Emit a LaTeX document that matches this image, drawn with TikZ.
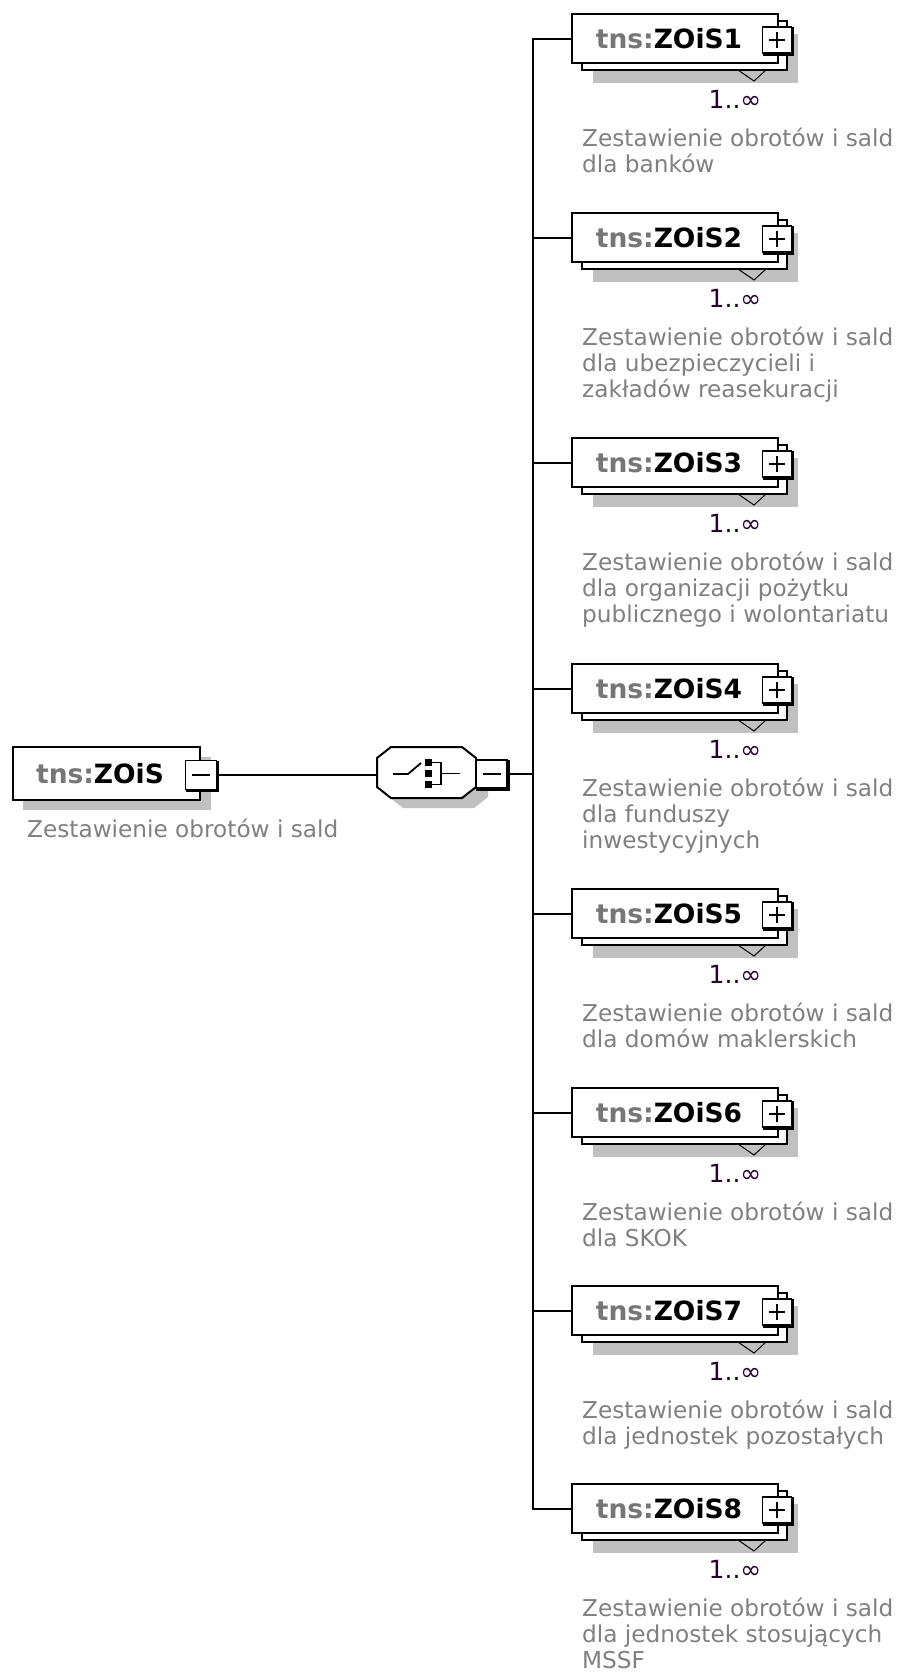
\documentclass[tikz,border=0pt]{standalone}
\usepackage{fontspec}
\setmainfont{DejaVu Sans}
\definecolor{shadowgray}{RGB}{192,192,192}
\definecolor{descgray}{RGB}{128,128,128}
\definecolor{nsgray}{RGB}{118,118,118}
\definecolor{multcol}{RGB}{40,0,50}
\tikzset{
  boxline/.style={draw=black, line width=2pt},
  frontbox/.style={draw=black, line width=2pt, fill=white, inner sep=0pt, outer sep=0pt},
  conn/.style={draw=black, line width=1.8pt},
  pmbox/.style={draw=black, line width=1.5pt, fill=white, inner sep=0pt, outer sep=0pt},
  pmthick/.style={draw=black, line width=3.5pt},
  pmsign/.style={draw=black, line width=1.8pt},
  titletext/.style={font=\fontsize{26.5}{30}\selectfont\bfseries, text=black, inner sep=0pt},
  desctext/.style={font=\fontsize{23.2}{26}\selectfont, text=descgray, align=left, inner sep=0pt},
  multtext/.style={font=\fontsize{25}{28}\selectfont, text=multcol, inner sep=0pt},
  vmark/.style={draw=black, line width=1pt},
}
\begin{document}
\begin{tikzpicture}[x=1pt, y=-1pt]
\useasboundingbox (0,0) rectangle (901,1675);

% ---------- root element ----------
\fill[shadowgray] (23,757) rectangle (211,810);
\node[frontbox, anchor=north west, minimum width=187, minimum height=53] (root) at (13,747) {};
\node[titletext] (roottitle) at (100,774) {\textcolor{nsgray}{tns:}ZOiS};
\node[pmbox, minimum width=31, minimum height=29] (rm) at (201,775) {};
\draw[pmthick] ([xshift=1pt]rm.north east) -- ([xshift=1pt,yshift=-1pt]rm.south east) -- ([yshift=-1pt]rm.south west);
\draw[pmsign] ([xshift=-9pt]rm.center) -- ([xshift=9pt]rm.center);
\node[desctext, anchor=north west] (rootdesc) at (27,819) {Zestawienie obrotów i sald};

% ---------- choice compositor ----------
\fill[shadowgray, shift={(12,10)}] (377,758) -- (391,747) -- (462,747) -- (476,758) -- (476,787) -- (462,798) -- (391,798) -- (377,787) -- cycle;
\draw[boxline, fill=white] (377,758) -- (391,747) -- (462,747) -- (476,758) -- (476,787) -- (462,798) -- (391,798) -- (377,787) -- cycle;
\node[minimum width=99, minimum height=51, inner sep=0pt, outer sep=0pt] (comp) at (426.5,772.5) {};
\draw[pmsign] (393,774) -- (408,774) -- (421,763);
\fill[black] (424.5,759) rectangle (431.5,766);
\fill[black] (424.5,770) rectangle (431.5,777);
\fill[black] (424.5,781) rectangle (431.5,788);
\draw[pmsign] (431,762.5) -- (441,762.5) -- (441,784.5) -- (431,784.5);
\draw[pmsign] (441,773.5) -- (460,773.5);
\node[pmbox, minimum width=31, minimum height=28] (cm) at (491.5,774) {};
\draw[pmthick] ([xshift=1pt]cm.north east) -- ([xshift=1pt,yshift=-1pt]cm.south east) -- ([yshift=-1pt]cm.south west);
\draw[pmsign] ([xshift=-9pt]cm.center) -- ([xshift=9pt]cm.center);

\draw[conn] (rm.east) -- (rm.east -| comp.west);
\coordinate (vj) at (533,774);
\draw[conn] ([xshift=2pt]cm.east) -- (vj);

% ---------- children ----------
\foreach \i/\cy/\desc in {
  1/39/{Zestawienie obrotów i sald\\dla banków},
  2/238/{Zestawienie obrotów i sald\\dla ubezpieczycieli i\\zakładów reasekuracji},
  3/463/{Zestawienie obrotów i sald\\dla organizacji pożytku\\publicznego i wolontariatu},
  4/689/{Zestawienie obrotów i sald\\dla funduszy\\inwestycyjnych},
  5/914/{Zestawienie obrotów i sald\\dla domów maklerskich},
  6/1113/{Zestawienie obrotów i sald\\dla SKOK},
  7/1311/{Zestawienie obrotów i sald\\dla jednostek pozostałych},
  8/1509/{Zestawienie obrotów i sald\\dla jednostek stosujących\\MSSF}}{
  \fill[shadowgray] (593,\cy-5) rectangle (798,\cy+44);
  \draw[boxline, fill=white] (582,\cy-18) rectangle (787,\cy+31);
  \draw[vmark] (738,\cy+31) -- (754,\cy+42) -- (766,\cy+31);
  \node[frontbox, anchor=north west, minimum width=206, minimum height=49] (c\i) at (572,\cy-25) {};
  \node[titletext] (t\i) at (669,\cy) {\textcolor{nsgray}{tns:}ZOiS\i};
  \node[pmbox, minimum width=29, minimum height=26] (p\i) at (777,\cy+1) {};
  \draw[pmthick] ([xshift=1pt]p\i.north east) -- ([xshift=1pt,yshift=-1pt]p\i.south east) -- ([yshift=-1pt]p\i.south west);
  \draw[pmsign] ([xshift=-8pt]p\i.center) -- ([xshift=8pt]p\i.center);
  \draw[pmsign] ([yshift=-8pt]p\i.center) -- ([yshift=8pt]p\i.center);
  \node[multtext] (m\i) at (735,\cy+60) {1..∞};
  \node[desctext, anchor=north west] (d\i) at (582,\cy+89) {\desc};
  \coordinate (v\i) at (533,\cy);
  \draw[conn] (v\i) -- (v\i -| c\i.west);
}
\draw[conn] ([yshift=0.9pt]v1) -- ([yshift=-0.9pt]v8);
\end{tikzpicture}
\end{document}
